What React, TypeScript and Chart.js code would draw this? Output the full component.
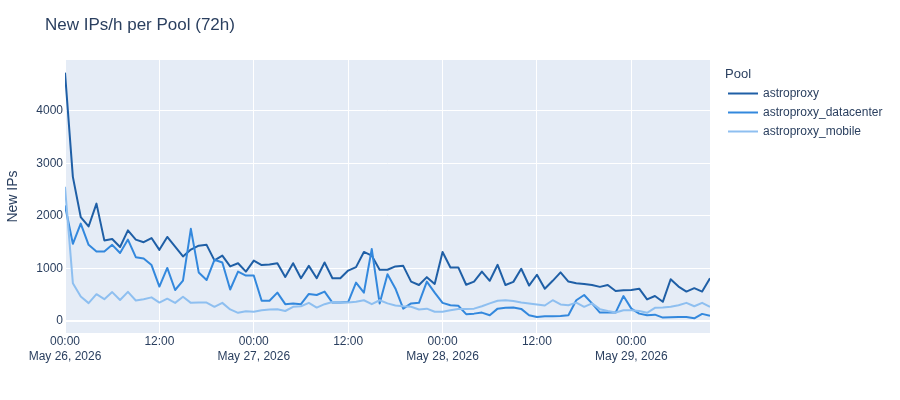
import { useEffect, useRef } from 'react';
import { Chart, registerables, Plugin } from 'chart.js';

Chart.register(...registerables);

// hours since 2026-05-26 00:00
const hours = Array.from({ length: 83 }, (_, i) => i);

const tickHours = [0, 12, 24, 36, 48, 60, 72];
const tickLabels: (string | string[])[] = [
  ['00:00', 'May 26, 2026'],
  '12:00',
  ['00:00', 'May 27, 2026'],
  '12:00',
  ['00:00', 'May 28, 2026'],
  '12:00',
  ['00:00', 'May 29, 2026'],
];

const yTicks = [0, 1000, 2000, 3000, 4000];

const astroproxy = [
  4730, 2745, 1980, 1800, 2235, 1535, 1560, 1410, 1725, 1550, 1500, 1580, 1355, 1600, 1415,
  1230, 1360, 1435, 1450, 1155, 1245, 1040, 1100, 940, 1150, 1065, 1075, 1100, 840,
  1100, 815, 1050, 815, 1115, 815, 815, 960, 1025, 1315, 1245, 975, 975, 1040, 1050,
  750, 685, 835, 705, 1315, 1020, 1020, 690, 750, 940, 765, 1070, 685, 745, 995,
  675, 880, 615, 765, 925, 750, 720, 705, 685, 650, 685, 570, 585, 590,
  615, 410, 475, 365, 795, 655, 560, 625, 560, 815,
];

const datacenter = [
  2200, 1470, 1855, 1450, 1325, 1325, 1450, 1295, 1550, 1215, 1190, 1065, 655, 1010, 590,
  770, 1755, 925, 780, 1165, 1115, 600, 940, 865, 865, 385, 385, 540, 320,
  335, 320, 515, 495, 560, 350, 350, 360, 730, 540, 1370, 335, 890, 620, 235,
  335, 345, 750, 540, 345, 300, 290, 130, 140, 160, 110, 235, 250, 255, 230,
  110, 75, 90, 90, 95, 110, 395, 495, 335, 160, 160, 160, 475, 235,
  140, 110, 120, 65, 70, 75, 75, 50, 135, 100,
];

const mobile = [
  2555, 720, 465, 340, 510, 415, 550, 400, 555, 390, 415, 450, 350, 425, 345,
  460, 345, 350, 350, 270, 345, 220, 155, 185, 175, 205, 220, 225, 190,
  270, 280, 345, 255, 320, 360, 350, 350, 365, 395, 320, 395, 335, 295, 280,
  270, 220, 235, 175, 175, 205, 230, 230, 235, 280, 335, 385, 395, 380, 350,
  335, 315, 295, 395, 315, 300, 350, 270, 335, 225, 190, 160, 205, 205,
  190, 155, 250, 255, 270, 300, 345, 280, 345, 270,
];

const poolNames = ['astroproxy', 'astroproxy_datacenter', 'astroproxy_mobile'];
const poolColors = ['#1f5fa6', '#3388dd', '#8ebff0'];

const FONT = '"Liberation Sans", Arial, sans-serif';
const TEXT = '#2a3f5f';

const plotBackground: Plugin<'line'> = {
  id: 'plotBackground',
  beforeDraw(chart) {
    const { ctx, chartArea: a } = chart;
    ctx.save();
    ctx.fillStyle = '#E5ECF6';
    ctx.fillRect(a.left, a.top, a.right - a.left, a.bottom - a.top);
    ctx.restore();
  },
};

// plotly-like title and legend
const titleAndLegend: Plugin<'line'> = {
  id: 'titleAndLegend',
  afterDraw(chart) {
    const { ctx } = chart;
    ctx.save();
    ctx.fillStyle = TEXT;
    ctx.textBaseline = 'alphabetic';
    ctx.font = `17px ${FONT}`;
    ctx.fillText('New IPs/h per Pool (72h)', 45, 30);
    ctx.font = `13px ${FONT}`;
    ctx.fillText('Pool', 725, 78);
    ctx.font = `12px ${FONT}`;
    ctx.textBaseline = 'middle';
    chart.data.datasets.forEach((ds, i) => {
      const y = 93.5 + i * 19;
      ctx.strokeStyle = ds.borderColor as string;
      ctx.lineWidth = 2;
      ctx.beginPath();
      ctx.moveTo(728, y);
      ctx.lineTo(758, y);
      ctx.stroke();
      ctx.fillText(ds.label as string, 763, y + 0.5);
    });
    ctx.restore();
  },
};

export default function App() {
  const canvasRef = useRef<HTMLCanvasElement>(null);

  useEffect(() => {
    if (!canvasRef.current) return;
    const ctx = canvasRef.current.getContext('2d');
    if (!ctx) return;

    const series = [astroproxy, datacenter, mobile];

    const chart = new Chart(ctx, {
      type: 'line',
      data: {
        labels: hours,
        datasets: series.map((values, i) => ({
          label: poolNames[i],
          data: values,
          borderColor: poolColors[i],
          backgroundColor: poolColors[i],
          borderWidth: 2,
          borderJoinStyle: 'round' as const,
          pointRadius: 0,
          tension: 0,
          order: 2 - i,
        })),
      },
      options: {
        animation: false,
        responsive: true,
        maintainAspectRatio: false,
        layout: { padding: { top: 60, right: 190, left: 0, bottom: 0 } },
        plugins: {
          legend: { display: false },
          title: { display: false },
          tooltip: { enabled: false },
        },
        scales: {
          x: {
            type: 'linear',
            min: 0,
            max: 82,
            afterBuildTicks: (scale) => {
              scale.ticks = tickHours.map((v) => ({ value: v }));
            },
            afterFit: (scale) => {
              scale.height = 67;
            },
            ticks: {
              autoSkip: false,
              maxRotation: 0,
              padding: 1,
              color: TEXT,
              font: { family: FONT, size: 12, lineHeight: 1.25 },
              callback: (value) => {
                const i = tickHours.indexOf(Number(value));
                return i >= 0 ? tickLabels[i] : '';
              },
            },
            grid: { color: '#ffffff', lineWidth: 1, drawTicks: false },
            border: { display: false },
          },
          y: {
            min: -229,
            max: 4971,
            afterBuildTicks: (scale) => {
              scale.ticks = yTicks.map((v) => ({ value: v }));
            },
            afterFit: (scale) => {
              scale.width = 65;
            },
            ticks: {
              padding: 2,
              color: TEXT,
              font: { family: FONT, size: 12 },
              callback: (value) => String(value),
            },
            grid: {
              color: '#ffffff',
              lineWidth: (c) => (c.tick && c.tick.value === 0 ? 2 : 1),
              drawTicks: false,
            },
            border: { display: false },
            title: {
              display: true,
              text: 'New IPs',
              color: TEXT,
              font: { family: FONT, size: 14 },
              padding: { top: 5, bottom: 0 },
            },
          },
        },
      },
      plugins: [plotBackground, titleAndLegend],
    });

    return () => {
      chart.destroy();
    };
  }, []);

  return (
    <div style={{ position: 'absolute', left: 0, top: 0, width: 900, height: 400, background: '#fff' }}>
      <canvas ref={canvasRef} />
    </div>
  );
}
